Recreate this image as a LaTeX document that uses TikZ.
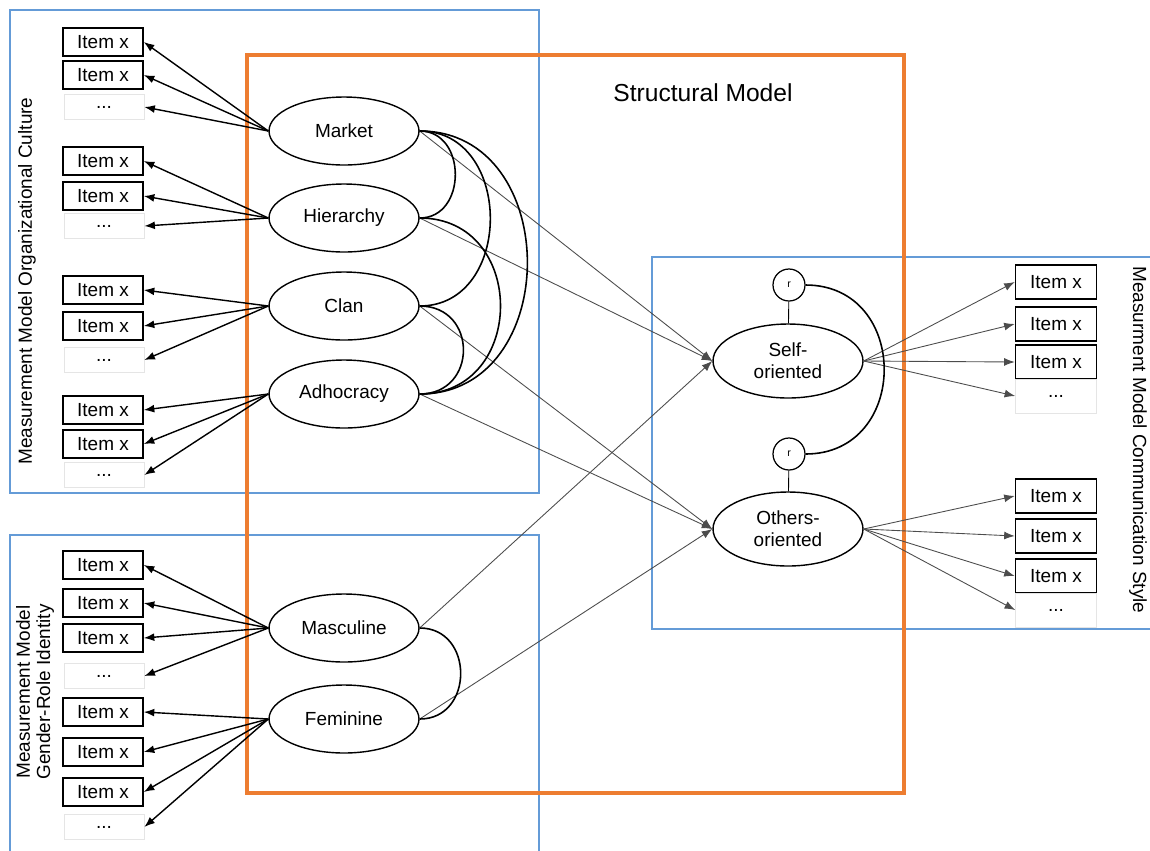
\documentclass[tikz,border=0pt]{standalone}
\usepackage{fontspec}
\setmainfont{Liberation Sans}
\usetikzlibrary{shapes.geometric,arrows.meta}
\definecolor{myblue}{RGB}{100,155,215}
\definecolor{myorange}{RGB}{237,125,49}

\begin{document}
\begin{tikzpicture}[x=0.02cm, y=-0.02cm,
		mframe/.style = {draw=myblue, line width=1.2pt},
		sframe/.style = {draw=myorange, line width=1.8pt},
		item/.style = {draw, line width=0.9pt, minimum width=1.6cm, minimum height=0.56cm, inner sep=0pt},
		itemr/.style = {item, minimum width=1.62cm, minimum height=0.68cm},
		more/.style = {draw=black!10, line width=0.4pt, minimum width=1.6cm, minimum height=0.5cm, inner sep=0pt},
		latent/.style = {ellipse, draw, line width=0.8pt, minimum width=3cm, minimum height=1.36cm, inner sep=0pt, align=center},
		resid/.style = {circle, draw, line width=0.7pt, minimum size=0.64cm, inner sep=0pt, font=\fontsize{6}{7}\selectfont},
		loading/.style = {-{Latex[length=6pt,width=4.5pt]}, line width=0.8pt},
		regr/.style = {-{Latex[length=6pt,width=4.5pt]}, draw=black!70, line width=0.5pt},
		cov/.style = {line width=0.9pt, out=0, in=0},
		font=\fontsize{10.8}{12.5}\selectfont]
		\useasboundingbox (0,0) rectangle (1150,850);
		% frames
		\draw[mframe] (10,10) rectangle (539,493);
		\draw[mframe] (10,852) -- (10,535) -- (539,535) -- (539,852);
		\draw[mframe] (1152,257) -- (652,257) -- (652,629) -- (1152,629);
		\draw[sframe] (247,55) rectangle (904,793);
		\node (title) at (703,93) {\fontsize{14}{16}\selectfont Structural Model};
		\node[rotate=90] (lorg) at (27,281) {Measurement Model Organizational Culture};
		\node[rotate=90, align=center, font=\fontsize{10.8}{11.5}\selectfont] (lgen) at (35,692) {Measurement Model\\Gender-Role Identity};
		\node[rotate=-90] (lcom) at (1138,440) {Measurment Model Communication Style};
		% latent variables
		\node[latent] (market) at (344,131) {Market};
		\node[latent] (hier) at (344,218) {Hierarchy};
		\node[latent] (clan) at (344,306) {Clan};
		\node[latent] (adho) at (344,394) {Adhocracy};
		\node[latent] (masc) at (344,628) {Masculine};
		\node[latent] (femi) at (344,719) {Feminine};
		\node[latent, minimum height=1.48cm] (self) at (788,361) {Self-\\oriented};
		\node[latent, minimum height=1.48cm] (others) at (788,529) {Others-\\oriented};
		\node[resid] (rs) at (789,285) {r};
		\node[resid] (ro) at (789,454) {r};
		% indicators
		\foreach \n/\y in {m1/42, m2/75, h1/161, h2/196, c1/290, c2/326, a1/410, a2/444, g1/565, g2/603, g3/638, f1/712, f2/752, f3/792}
			\node[item] (\n) at (103,\y) {Item x};
		\foreach \n/\y in {m3/107, h3/226, c3/360, a3/475, g4/676, f4/827}
			\node[more] (\n) at (104,\y) {...};
		\foreach \n/\y in {s1/282, s2/324, s3/362, o1/496, o2/536, o3/576}
			\node[itemr] (\n) at (1056,\y) {Item x};
		\foreach \n/\y in {s4/396, o4/610}
			\node[more, minimum width=1.62cm, minimum height=0.68cm] (\n) at (1056,\y) {...};
		% loadings
		\foreach \f/\t in {market/m1, market/m2, market/m3, hier/h1, hier/h2, hier/h3, clan/c1, clan/c2, clan/c3, adho/a1, adho/a2, adho/a3, masc/g1, masc/g2, masc/g3, masc/g4, femi/f1, femi/f2, femi/f3, femi/f4}
			\draw[loading] (\f.west) -- (\t.east);
		\foreach \t in {s1, s2, s3, s4}
			\draw[regr] (self.east) -- (\t.west);
		\foreach \t in {o1, o2, o3, o4}
			\draw[regr] (others.east) -- (\t.west);
		% structural paths
		\foreach \f/\t in {market/self, hier/self, masc/self, clan/others, adho/others, femi/others}
			\draw[regr] (\f.east) -- (\t.west);
		% correlations
		\draw[cov, looseness=1.4] (market.east) to (hier.east);
		\draw[cov, looseness=1.38] (market.east) to (clan.east);
		\draw[cov, looseness=1.4] (market.east) to (adho.east);
		\draw[cov, looseness=1.57] (hier.east) to (adho.east);
		\draw[cov, looseness=1.7] (clan.east) to (adho.east);
		\draw[cov, looseness=1.54] (masc.east) to (femi.east);
		\draw[cov, looseness=1.59] (rs.east) to (ro.east);
		\draw[line width=0.5pt] (rs) -- (self);
		\draw[line width=0.5pt] (ro) -- (others);
	\end{tikzpicture}
\end{document}
